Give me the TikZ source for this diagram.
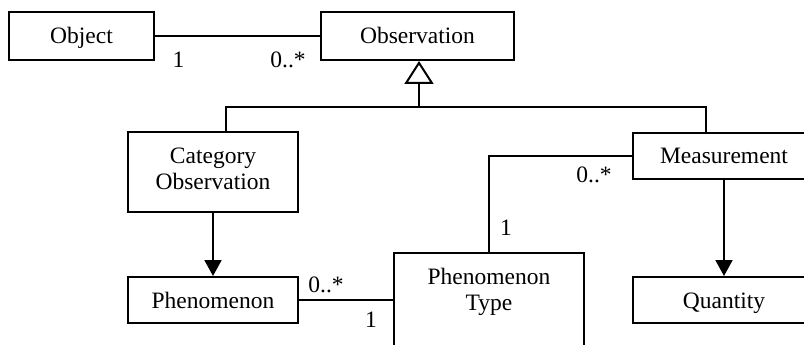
\documentclass[tikz,border=0pt]{standalone}
\usepackage{fontspec}
\setmainfont{Liberation Serif}
\usetikzlibrary{arrows.meta}
\begin{document}
\begin{tikzpicture}[x=1pt,y=-1pt,
  every node/.style={font=\fontsize{23.5}{26}\selectfont},
  cls/.style={draw, line width=2pt, inner sep=0pt, align=center},
  one/.style={cls, text height=16pt, text depth=0pt},
  link/.style={line width=2pt},
  nav/.style={link, -{Triangle[width=17pt,length=16pt]}},
  gen/.style={link, -{Triangle[open,width=29pt,length=23pt,line width=2pt]}},
  mult/.style={anchor=base, inner sep=0pt}]
\useasboundingbox (0,0) rectangle (804,345);
\clip (0,0) rectangle (804,345);
\fill[white] (0,0) rectangle (804,345);
\node[one, minimum width=145pt, minimum height=48pt] (obj) at (81.5,36) {Object};
\node[one, minimum width=193pt, minimum height=48pt] (obs) at (417.5,36) {Observation};
\node[cls, text depth=7pt, minimum width=170pt, minimum height=80pt] (cat) at (213,172) {Category\\Observation};
\node[one, minimum width=170pt, minimum height=46pt] (phen) at (213,300) {Phenomenon};
\node[one, minimum width=182pt, minimum height=46pt] (meas) at (724,156) {Measurement};
\node[one, minimum width=182pt, minimum height=46pt] (quant) at (724,300) {Quantity};
\node[cls, minimum width=190pt, minimum height=140pt, anchor=north,
  label={[name=ptl, anchor=north, inner sep=0pt, yshift=-16pt, align=center]north:Phenomenon\\Type}] (pt) at (489,252) {};
\coordinate (hub) at (419,107);
% association Object - Observation
\draw[link] (obj.east) -- (obs.west);
\node[mult] (m1) at (178.5,67) {1};
\node[mult] (m2) at (288,67) {0..*};
% generalization
\draw[gen] (hub) -- (hub |- obs.south);
\draw[link] ([xshift=13pt]cat.north) |- (hub) -| ([xshift=-18pt]meas.north);
% navigations
\draw[nav] (cat.south) -- (phen.north);
\draw[nav] (meas.south) -- (quant.north);
% Measurement - Phenomenon Type
\draw[link] (meas.west) -| (pt.north);
\node[mult] (m3) at (594,182.7) {0..*};
\node[mult] (m4) at (506,235) {1};
% Phenomenon - Phenomenon Type
\draw[link] (phen.east) -- (phen.east -| pt.west);
\node[mult] (m5) at (326,292) {0..*};
\node[mult] (m6) at (371,327) {1};
\end{tikzpicture}
\end{document}
